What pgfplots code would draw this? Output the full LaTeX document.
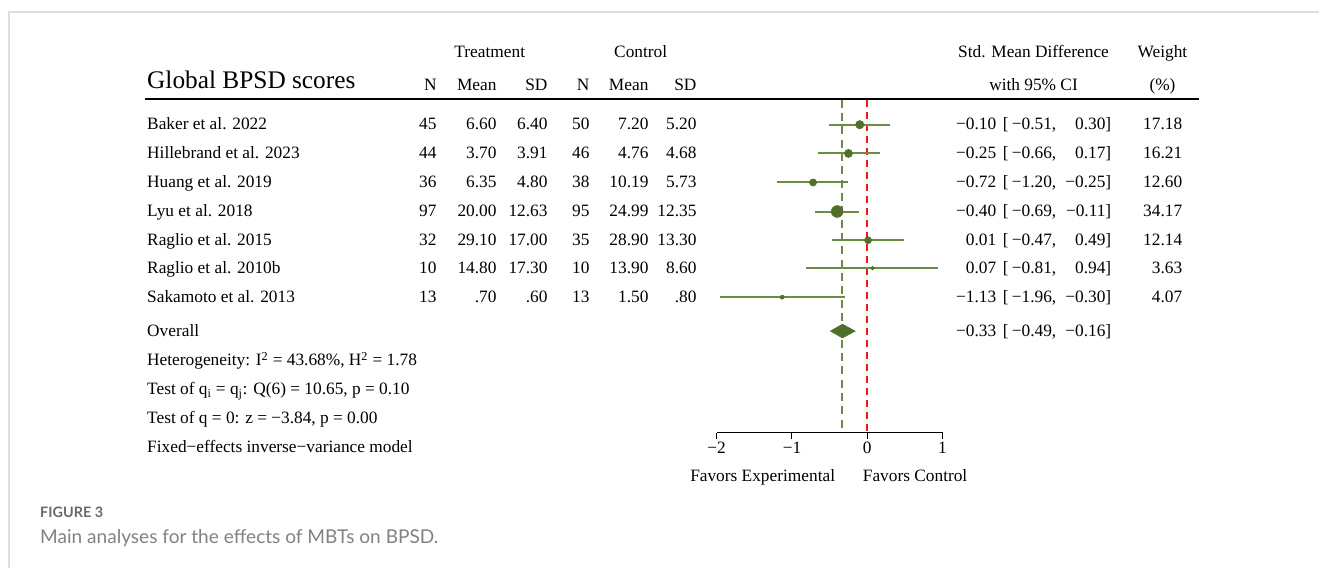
\documentclass[border=0pt]{standalone}
\usepackage{pgfplots}
\pgfplotsset{compat=1.18}
\usepackage{pgfplotstable}
\usepackage{fontspec}
\setmainfont{Liberation Serif}
\newfontfamily\capfont{Lato}
\definecolor{mk}{RGB}{80,112,42}
\definecolor{ci}{RGB}{108,142,68}
\definecolor{gl}{RGB}{108,138,78}
\definecolor{rl}{RGB}{235,25,25}
\definecolor{capgray}{RGB}{130,130,130}
\definecolor{capdark}{RGB}{105,105,105}
\definecolor{framegray}{RGB}{222,222,222}

% row position (negative row index), estimate, minus/plus CI half-widths, weight
\pgfplotstableread{
y      es     em    ep    w
-1.00  -0.10  0.41  0.40  17.18
-2.00  -0.25  0.41  0.42  16.21
-3.01  -0.72  0.48  0.47  12.60
-4.02  -0.40  0.29  0.29  34.17
-5.02   0.01  0.48  0.48  12.14
-5.99   0.07  0.88  0.87  3.63
-7.00  -1.13  0.83  0.83  4.07
}\forestdata

\newcommand{\rf}{\fontsize{13}{15}\selectfont}

\begin{document}
\begin{tikzpicture}
\begin{scope}[x=0.75pt,y=-0.75pt]
\path (0,0) rectangle (1320,568);
\draw[framegray, line width=0.9pt] (9,568) -- (9,12) -- (1320,12);
\end{scope}

\begin{axis}[
  at={(537.75pt,-324.75pt)}, anchor=south west,
  scale only axis, width=169.5pt, height=249.9pt,
  xmin=-2, xmax=1, ymin=-11.718, ymax=-0.133,
  axis x line*=bottom, axis y line=none,
  xtick={-2,-1,0,1}, xticklabels={−2,−1,0,1},
  tick align=outside, major tick length=4.5pt,
  x axis line style={line width=0.75pt,-},
  xtick style={line width=0.75pt,black},
  ticklabel style={font=\rf},
  xticklabel style={yshift=1pt},
  clip=false,
]
\addplot[gl, line width=1.4pt, dash pattern=on 6pt off 4pt] coordinates {(-0.33,-0.133) (-0.33,-11.718)};
\addplot[rl, line width=1.2pt, dash pattern=on 5.5pt off 3.5pt] coordinates {(0,-0.133) (0,-11.718)};
\addplot[ci, line width=1.5pt, draw=none, mark=none, error bars/.cd, x dir=both, x explicit, error mark=none,
  error bar style={draw=ci, line width=1.5pt}]
  table[x=es, y=y, x error plus=ep, x error minus=em]{\forestdata};
\addplot[only marks, mark=*, scatter, point meta=explicit,
  scatter/use mapped color={draw=mk, fill=mk},
  visualization depends on={0.76*sqrt(\thisrow{w}) \as \msize},
  scatter/@pre marker code/.append style={/tikz/mark size=\msize pt}]
  table[x=es, y=y, meta=w]{\forestdata};
\addplot[draw=mk, fill=mk] coordinates {(-0.49,-8.18) (-0.33,-7.94) (-0.16,-8.18) (-0.33,-8.42)} -- cycle;
\end{axis}

\begin{scope}[x=0.75pt,y=-0.75pt, every node/.style={inner sep=0pt, font=\rf}]
% headers
\node[anchor=base] at (490,58) {Treatment};
\node[anchor=base] at (641,58) {Control};
\node[anchor=base] at (1034,58) {Std. Mean Difference};
\node[anchor=base] at (1163,58) {Weight};
\node[anchor=base west, font=\fontsize{19}{22}\selectfont] at (147,89) {Global BPSD scores};
\node[anchor=base east] at (437,91) {N};
\node[anchor=base east] at (497,91) {Mean};
\node[anchor=base east] at (548,91) {SD};
\node[anchor=base east] at (590,91) {N};
\node[anchor=base east] at (649,91) {Mean};
\node[anchor=base east] at (697,91) {SD};
\node[anchor=base] at (1034,91) {with 95\% CI};
\node[anchor=base] at (1163,91) {(\%)};
\draw[line width=1.1pt] (145,99) -- (1200,99);
% study rows
\foreach \yy/\name/\na/\ma/\sa/\nb/\mb/\sb/\es/\lo/\hi/\w in {
 124/Baker et al. 2022/45/6.60/6.40/50/7.20/5.20/−0.10/−0.51/0.30/17.18,
 153/Hillebrand et al. 2023/44/3.70/3.91/46/4.76/4.68/−0.25/−0.66/0.17/16.21,
 182/Huang et al. 2019/36/6.35/4.80/38/10.19/5.73/−0.72/−1.20/−0.25/12.60,
 211/Lyu et al. 2018/97/20.00/12.63/95/24.99/12.35/−0.40/−0.69/−0.11/34.17,
 240/Raglio et al. 2015/32/29.10/17.00/35/28.90/13.30/0.01/−0.47/0.49/12.14,
 268/Raglio et al. 2010b/10/14.80/17.30/10/13.90/8.60/0.07/−0.81/0.94/3.63,
 297/Sakamoto et al. 2013/13/.70/.60/13/1.50/.80/−1.13/−1.96/−0.30/4.07}{
 \node[anchor=base west] at (147,\yy+6) {\name};
 \node[anchor=base east] at (437,\yy+6) {\na};
 \node[anchor=base east] at (497,\yy+6) {\ma};
 \node[anchor=base east] at (548,\yy+6) {\sa};
 \node[anchor=base east] at (590,\yy+6) {\nb};
 \node[anchor=base east] at (649,\yy+6) {\mb};
 \node[anchor=base east] at (697,\yy+6) {\sb};
 \node[anchor=base east] at (997,\yy+6) {\es};
 \node[anchor=base west] at (1003,\yy+6) {[};
 \node[anchor=base east] at (1057,\yy+6) {\lo,};
 \node[anchor=base east] at (1112,\yy+6) {\hi]};
 \node[anchor=base east] at (1183,\yy+6) {\w};
}
% overall
\node[anchor=base west] at (147,337) {Overall};
\node[anchor=base east] at (997,337) {−0.33};
\node[anchor=base west] at (1003,337) {[};
\node[anchor=base east] at (1057,337) {−0.49,};
\node[anchor=base east] at (1112,337) {−0.16]};
\node[anchor=base west] at (147,366) {Heterogeneity: I\textsuperscript{2} = 43.68\%, H\textsuperscript{2} = 1.78};
\node[anchor=base west] at (147,395) {Test of q\textsubscript{i} = q\textsubscript{j}: Q(6) = 10.65, p = 0.10};
\node[anchor=base west] at (147,424) {Test of q = 0: z = −3.84, p = 0.00};
\node[anchor=base west] at (147,453) {Fixed−effects inverse−variance model};
\node[anchor=base] at (763,482) {Favors Experimental};
\node[anchor=base] at (915.5,482) {Favors Control};
% caption
\node[anchor=base west, font=\capfont\bfseries\fontsize{10.8}{13}\selectfont, text=capdark] at (40,518) {FIGURE 3};
\node[anchor=base west, font=\capfont\fontsize{14.3}{17}\selectfont, text=capgray] at (40,544) {Main analyses for the effects of MBTs on BPSD.};
\end{scope}
\end{tikzpicture}
\end{document}
